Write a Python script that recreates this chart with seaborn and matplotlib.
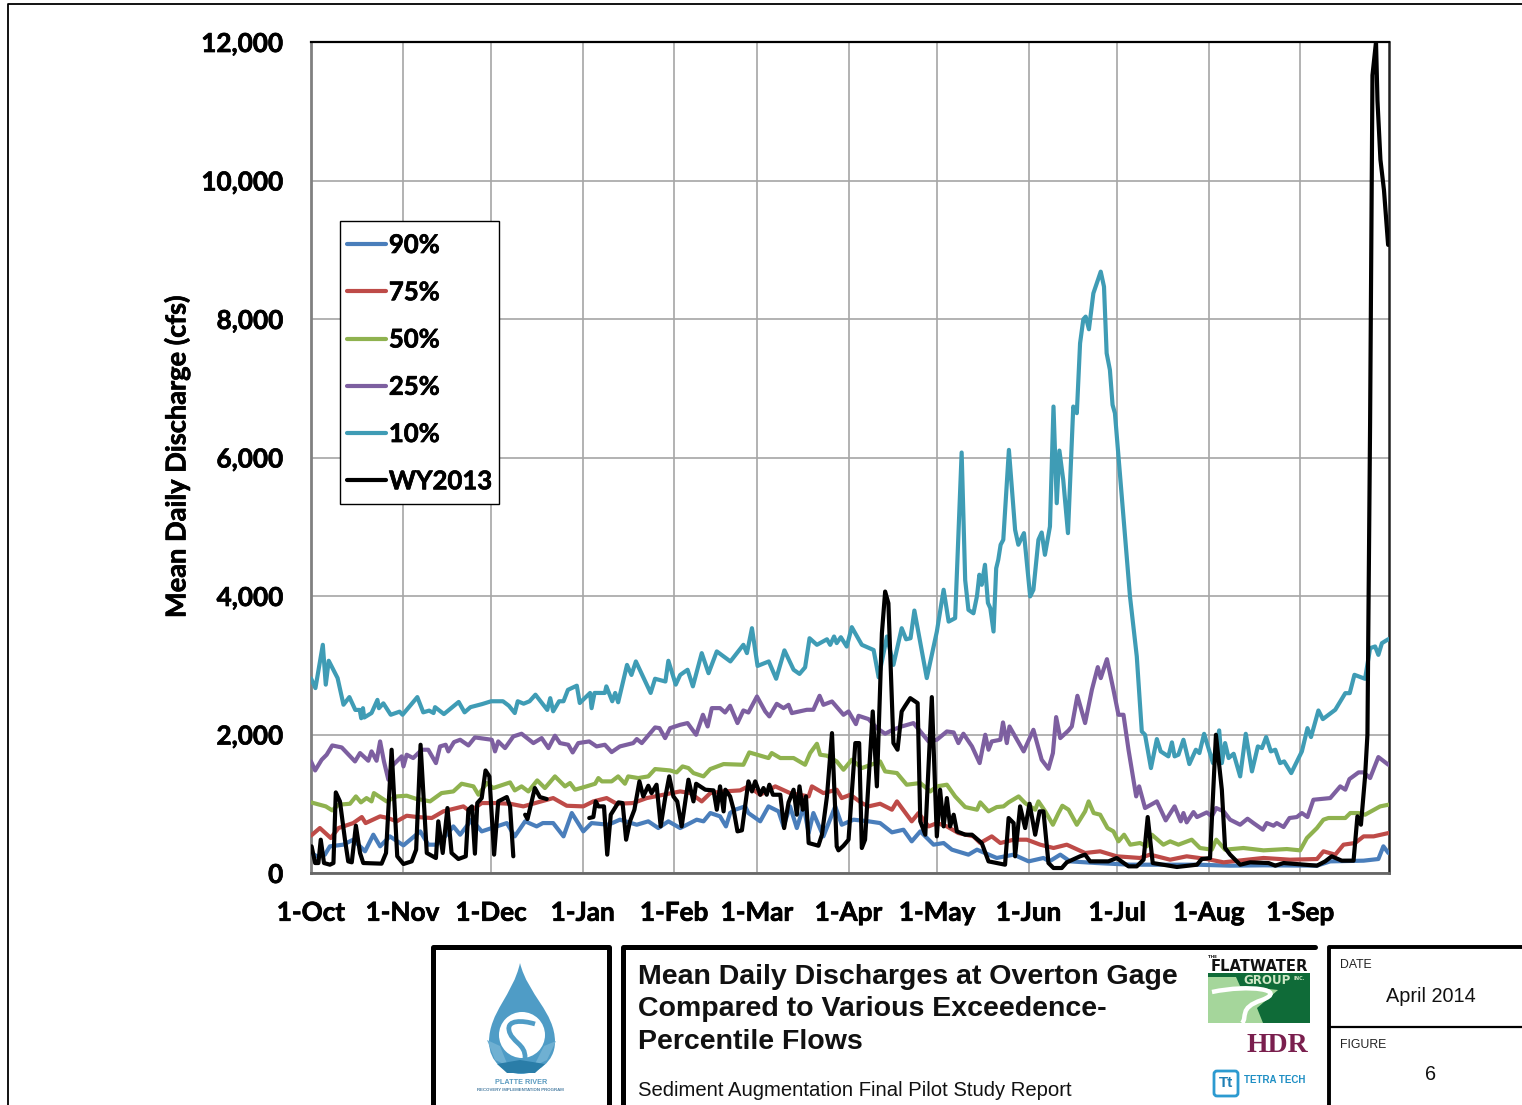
import matplotlib
matplotlib.use('Agg')
import matplotlib.pyplot as plt
import matplotlib.patheffects as pe
from matplotlib.patches import Rectangle, PathPatch, FancyBboxPatch, Circle, Polygon
from matplotlib.path import Path
import seaborn as sns

# day of the water year (0 = 1 Oct) and mean daily discharge in cfs
tick_days = [0, 31, 61, 92, 123, 151, 182, 212, 243, 273, 304, 335]
tick_names = ['1-Oct', '1-Nov', '1-Dec', '1-Jan', '1-Feb', '1-Mar', '1-Apr', '1-May', '1-Jun', '1-Jul', '1-Aug', '1-Sep']
y_ticks = [0, 2000, 4000, 6000, 8000, 10000, 12000]

d90 = [0, 2, 4.7, 6.4, 10.9, 14.3, 18.3, 21.1, 23.4, 26.7, 31.3, 37, 39.7, 42.5, 45.4, 48.2, 50.5, 54.4, 57.8, 62.9, 66.3, 69, 72.5, 76.4, 78.5, 82, 85.5, 88.3, 92.2, 95, 100.7, 104.6, 110.3, 114.2, 117.6, 121, 125, 127.3, 130.6, 132.9, 135.2, 138.5, 140.5, 141.9, 143.6, 147, 148.1, 152.1, 154.9, 158.3, 160, 162.2, 164.5, 166.8, 168.5, 170.1, 173.5, 177.5, 179.7, 183.7, 188.8, 192.7, 196.7, 200.6, 203.4, 206.3, 210.8, 214.2, 217, 222.6, 225.5, 232.2, 237.9, 243, 248, 250, 253.7, 257, 266, 277.4, 288.6, 300, 311.2, 322.5, 340.6, 345.1, 356.4, 361.4, 363.1, 364.8]
q90 = [289, 241, 265, 385, 409, 481, 313, 553, 385, 529, 399, 601, 409, 409, 529, 673, 553, 770, 601, 673, 721, 529, 746, 673, 721, 721, 529, 866, 601, 721, 697, 770, 697, 746, 649, 746, 649, 697, 770, 746, 866, 818, 673, 866, 914, 962, 866, 746, 962, 890, 673, 962, 649, 962, 577, 866, 529, 962, 697, 770, 746, 721, 587, 625, 457, 601, 409, 433, 337, 265, 337, 217, 265, 168, 217, 168, 265, 168, 144, 120, 120, 120, 106, 111, 106, 168, 178, 202, 385, 289]

d75 = [0, 3, 6.7, 9.3, 14.3, 17.2, 18.5, 23.4, 26, 29, 32.4, 36, 40.9, 44.8, 51.6, 53.8, 57.8, 62.3, 67.4, 71.9, 82, 86.6, 92.2, 95.6, 100.1, 103.5, 109, 113.7, 119.3, 125, 128.4, 132.3, 135.2, 139.7, 145.3, 148.1, 152.1, 157.2, 162.2, 168.5, 169.6, 173.5, 178, 179.7, 182.6, 186.5, 188.8, 192.7, 196.7, 198.4, 203.4, 205.7, 209.1, 212, 215.3, 219.2, 224.3, 226.6, 230.5, 233.4, 237.9, 242.4, 246.9, 251.4, 255.9, 262.1, 267.2, 272.8, 280.7, 284.1, 290.9, 296.5, 303.3, 309, 316.9, 322.5, 331.5, 340.6, 342.8, 346.8, 349.6, 353.5, 356.4, 359.8, 364.8]
q75 = [539, 649, 505, 649, 721, 808, 721, 818, 794, 746, 827, 808, 794, 890, 962, 890, 1010, 1010, 1000, 962, 1082, 971, 962, 1034, 1082, 1000, 1010, 1082, 1130, 1178, 1154, 1034, 1154, 1178, 1193, 1251, 1130, 1251, 1154, 1106, 1251, 1154, 1203, 1082, 1130, 1010, 962, 1000, 914, 1034, 746, 866, 673, 721, 673, 577, 529, 433, 529, 433, 481, 481, 409, 361, 409, 289, 313, 241, 217, 265, 192, 241, 202, 154, 192, 217, 192, 202, 313, 265, 409, 433, 529, 529, 577]

d50 = [0, 3, 5, 7.2, 9.3, 13.2, 15.2, 16.9, 18.8, 20.5, 21.3, 25.6, 29, 32.4, 35.8, 37.5, 40.3, 44.2, 48.2, 51, 55, 56.7, 59.5, 61.7, 64, 67.4, 69, 71.3, 73.6, 76.6, 79.2, 82.6, 86, 87.7, 89.4, 93.3, 96.2, 97.3, 98.5, 101.8, 104, 106.3, 107.4, 110.8, 114.2, 116.5, 121.6, 123.8, 125.8, 127.8, 129.5, 132.9, 135.2, 139.7, 146.4, 148.4, 151, 154.9, 156, 158.9, 163.4, 167.3, 169, 171.3, 172.4, 174.7, 178, 180.3, 183.1, 186.5, 192.7, 194.4, 198.4, 201.7, 206.3, 209.7, 211.9, 215.3, 218.1, 221.5, 225.5, 226.6, 229.4, 232.2, 234.5, 236.2, 239.6, 241.8, 245.2, 246.3, 248.6, 251.2, 253.1, 254.4, 256.5, 259.3, 262.1, 263.3, 265, 267.2, 269.7, 271.7, 273.4, 275.3, 277.4, 280.7, 283, 284.7, 288.6, 290.9, 293.7, 298.2, 301, 305, 306.5, 309.5, 315.7, 322.5, 330.4, 334.9, 337.2, 340.6, 342.8, 344.5, 350.2, 351.9, 354.7, 356.9, 362, 364.8]
q50 = [1020, 986, 962, 904, 986, 1000, 1106, 1020, 1082, 1034, 1154, 1034, 1106, 1116, 1068, 1058, 1034, 1154, 1178, 1289, 1251, 1130, 1299, 1227, 1260, 1308, 1193, 1251, 1178, 1337, 1227, 1395, 1251, 1299, 1203, 1251, 1289, 1371, 1323, 1323, 1395, 1289, 1395, 1371, 1395, 1501, 1481, 1453, 1539, 1515, 1443, 1395, 1501, 1573, 1563, 1741, 1708, 1660, 1732, 1660, 1660, 1563, 1732, 1866, 1708, 1694, 1611, 1491, 1635, 1515, 1611, 1467, 1443, 1275, 1299, 1178, 1251, 1275, 1106, 952, 914, 1020, 890, 952, 962, 1020, 1106, 1010, 914, 1034, 890, 697, 866, 971, 914, 697, 890, 1034, 866, 842, 649, 601, 457, 553, 409, 433, 385, 553, 409, 457, 409, 481, 361, 337, 481, 337, 361, 327, 346, 327, 505, 649, 770, 794, 794, 866, 866, 842, 962, 986]

d25 = [0, 1.4, 3.6, 5.3, 7.2, 10.4, 14.9, 16.6, 19.4, 20.5, 22.2, 23.4, 24.7, 26.2, 27.3, 30.7, 31.3, 32.4, 34.6, 37.5, 39.7, 42.3, 43.7, 45.6, 46.5, 48.4, 50.5, 53.3, 55.5, 61.2, 62.3, 63.4, 65.7, 68.5, 71.3, 75.3, 78.1, 80.4, 82.6, 84.3, 87.1, 88.6, 90.5, 94.2, 96.7, 99.5, 101.8, 104.6, 109.1, 110.3, 112, 116.5, 118, 119.9, 121.6, 125, 127.5, 130.4, 132.7, 134.3, 135.7, 138.5, 140.2, 141.9, 144.4, 146.4, 148.1, 151, 153.8, 155.2, 157.7, 160, 161.7, 162.8, 167.9, 170.1, 172.2, 173.5, 176.4, 180.3, 182, 184.5, 185.4, 188.8, 191.6, 194.4, 197, 200, 204, 209.1, 211.9, 215.3, 217.6, 219.2, 220.9, 223.8, 226.4, 228.3, 229.4, 230.5, 233.4, 234.3, 235.6, 236.5, 241.3, 244.6, 247.4, 249.7, 251.2, 252.3, 253.7, 256.5, 257.6, 259.5, 262.1, 264.4, 266.4, 267.4, 269.5, 271.7, 273.4, 275.1, 276.8, 279.4, 280.4, 282.4, 286.4, 289.4, 292.4, 294.5, 295.4, 296.5, 298.8, 300, 303.3, 305, 306.5, 309, 311.2, 314.6, 317.1, 319.1, 322.3, 323.6, 325.9, 327, 329.3, 331.3, 333.8, 335.5, 337.4, 339.4, 345.1, 348.5, 350.2, 351.6, 354.7, 356.4, 358.6, 361.4, 364.8]
q25 = [1611, 1481, 1635, 1708, 1842, 1813, 1611, 1732, 1621, 1756, 1621, 1900, 1611, 1347, 1539, 1684, 1539, 1708, 1660, 1780, 1780, 1587, 1828, 1852, 1756, 1890, 1924, 1842, 1958, 1924, 1756, 1900, 1804, 1972, 2011, 1876, 1948, 1804, 1982, 1876, 1852, 1741, 1876, 1900, 1828, 1852, 1746, 1828, 1876, 1934, 1876, 2102, 2092, 1948, 2092, 2140, 2165, 1996, 2285, 2116, 2381, 2381, 2318, 2415, 2165, 2347, 2318, 2549, 2333, 2261, 2443, 2381, 2429, 2309, 2357, 2357, 2559, 2429, 2477, 2285, 2333, 2150, 2270, 2222, 2092, 2011, 2068, 2116, 2165, 1900, 1924, 2044, 2030, 1876, 2011, 1828, 1587, 1996, 1780, 1900, 1924, 2174, 1876, 2116, 1756, 2068, 1635, 1505, 1732, 2251, 1948, 2059, 2116, 2559, 2165, 2646, 2973, 2814, 3088, 2646, 2285, 2285, 1780, 1106, 1251, 938, 1034, 760, 962, 746, 866, 731, 880, 808, 875, 818, 938, 890, 770, 697, 784, 721, 625, 721, 683, 721, 664, 794, 808, 866, 808, 1058, 1082, 1251, 1203, 1356, 1453, 1453, 1371, 1674, 1563]

d10 = [0, 1.5, 4, 5, 6, 9, 11, 13, 15, 16.5, 17, 17.6, 18, 20.5, 22.5, 23, 24.5, 27, 30, 31, 36, 38, 40, 41.5, 42, 45, 50, 52, 54, 58, 61, 65, 67, 69, 70, 72, 74, 76, 80, 81, 82, 84, 85.5, 87, 90, 91, 94.5, 95, 96, 99.5, 100, 102, 103, 104, 107, 108.5, 110, 115, 116.5, 120, 121, 123.5, 125, 127.5, 129.3, 132.3, 134.6, 137.4, 142, 146.4, 147.6, 149.3, 151.2, 155, 157.5, 160.3, 163.4, 165.4, 167.3, 168.8, 171.3, 174.7, 175.8, 177.1, 178, 179.4, 181.4, 183.1, 186.5, 190.5, 192.2, 195, 197.2, 200, 201.5, 203, 204.3, 208.5, 211.9, 214.2, 215.9, 218.1, 220.3, 221.5, 222.6, 224.3, 225.5, 226.3, 227.1, 228.2, 229.2, 230, 231.1, 232, 232.7, 233.5, 234.4, 236.3, 238.4, 239.5, 241.4, 243.5, 244.6, 246.3, 247.4, 248.5, 250.2, 251.4, 252.5, 253.4, 254.7, 256.3, 258.1, 259.3, 260.4, 261.5, 262.3, 263.4, 264.9, 267.4, 268.5, 269.4, 270.5, 271.4, 272.2, 273.4, 277.3, 279.6, 281.3, 282.4, 284.4, 286.4, 287.7, 290.3, 291.5, 292.4, 293.7, 295.4, 297.4, 299.6, 300.8, 302.4, 305.4, 307.5, 308.4, 309.5, 310.7, 312.4, 314.6, 316.5, 318.6, 320.6, 322, 323.4, 325, 326.5, 328.1, 329.5, 331.9, 335.5, 337.4, 338.6, 341.1, 342.6, 346.8, 350.2, 351.7, 353.3, 356.9, 358.6, 360.3, 361.4, 362.6, 364.8]
q10 = [2810, 2670, 3295, 2720, 3065, 2815, 2430, 2540, 2355, 2355, 2235, 2380, 2245, 2310, 2500, 2380, 2450, 2285, 2330, 2285, 2540, 2320, 2345, 2310, 2395, 2295, 2470, 2320, 2395, 2440, 2480, 2480, 2415, 2310, 2480, 2445, 2480, 2575, 2355, 2525, 2335, 2480, 2480, 2645, 2705, 2455, 2600, 2380, 2600, 2600, 2695, 2480, 2600, 2465, 3005, 2860, 3055, 2600, 2805, 2765, 3065, 2720, 2860, 2935, 2695, 3175, 2885, 3200, 3055, 3295, 3175, 3535, 2990, 3055, 2805, 3215, 2935, 2875, 2970, 3390, 3295, 3375, 3295, 3415, 3320, 3405, 3270, 3550, 3295, 3220, 2825, 3415, 3005, 3535, 3375, 3390, 3790, 2815, 3485, 4090, 3630, 3680, 6072, 4230, 3800, 3750, 4000, 4307, 4162, 4451, 3900, 3825, 3487, 4400, 4523, 4740, 4812, 6110, 4956, 4740, 4908, 3994, 4090, 4812, 4917, 4595, 5004, 6736, 5340, 6100, 5677, 4908, 6736, 6640, 7650, 7996, 8034, 7852, 8371, 8684, 8467, 7505, 7265, 6760, 6640, 6014, 3994, 3127, 2044, 1996, 1515, 1934, 1756, 1684, 1886, 1684, 1708, 1924, 1573, 1780, 1732, 2010, 1587, 2059, 1587, 1876, 1660, 1722, 1395, 2010, 1467, 1828, 1804, 1963, 1756, 1780, 1587, 1611, 1443, 1756, 2092, 1963, 2347, 2222, 2357, 2597, 2597, 2862, 2804, 3247, 3271, 3150, 3319, 3377]

# WY2013 has two stretches without record, so it comes in three pieces
wy_d1 = [0.2, 1.4, 2.5, 3.3, 4.4, 6.4, 7.6, 8.4, 9.8, 11.5, 12.6, 13.8, 15.2, 16.6, 17.7, 23.9, 25.4, 27.3, 29.2, 31.3, 34.1, 35.6, 37.1, 39.2, 42.3, 43.1, 44.6, 46.2, 47.6, 49.9, 52.4, 53.3, 54.5, 55.5, 56.3, 57.8, 59.1, 60.4, 62, 63.4, 66.3, 67.4, 68.5]
wy_q1 = [385, 144, 144, 481, 144, 120, 144, 1164, 1034, 481, 168, 154, 683, 289, 144, 135, 289, 1780, 241, 130, 168, 337, 1852, 289, 216, 746, 289, 938, 289, 202, 241, 914, 962, 279, 1010, 1082, 1481, 1395, 265, 1034, 1097, 962, 241]
wy_d2 = [72.5, 73.3, 75.8, 77.5, 79.8]
wy_q2 = [842, 779, 1227, 1097, 1068]
wy_d3 = [94.2, 95.6, 96.4, 97.3, 99.2, 100.3, 101.5, 104.1, 105.5, 106.7, 108, 109.5, 111.2, 112.5, 114.2, 115.3, 117, 118.4, 119.9, 121.3, 122.7, 124, 125.5, 127.8, 129.5, 130.4, 133.5, 136.3, 137.4, 138.5, 139.7, 140.3, 141.9, 143.1, 144.4, 145.9, 148.1, 149.3, 150.4, 152.1, 153.2, 154.3, 155.2, 156.4, 158.9, 160.2, 161.7, 163.4, 164.5, 165.4, 166.5, 167.6, 168.5, 171.8, 173, 174.7, 176.4, 178, 178.6, 180.3, 182, 184.3, 185.6, 186.5, 187.6, 190.2, 191.6, 193.3, 194.4, 195.5, 197.2, 198.6, 200, 201.2, 202.9, 205.4, 206.3, 208, 210.2, 211.9, 213, 214.2, 215.3, 216.4, 217.6, 218.7, 221.5, 223.8, 227.1, 229.4, 235, 236.2, 237.9, 238.4, 240.1, 241.8, 243.3, 245.2, 246.7, 248, 249.7, 251.4, 254.2, 255.9, 260.4, 262.1, 263.8, 270, 272.8, 276.8, 279.6, 281.9, 283.3, 285, 293.2, 300, 301.6, 304.4, 306.4, 308.4, 309.5, 311.2, 314.6, 318, 324.2, 326.5, 329.3, 340.6, 343.4, 345.6, 349, 353, 354.3, 355.5, 356.9, 357.7, 358.6, 359.4, 360.6, 361.1, 362.1, 363.3, 364.7]
wy_q3 = [794, 808, 1034, 962, 962, 265, 842, 1020, 1010, 481, 746, 914, 1323, 1106, 1260, 1154, 1275, 673, 1082, 1395, 1106, 1034, 673, 1347, 1034, 1289, 1203, 1193, 914, 1251, 890, 1203, 1106, 914, 601, 616, 1323, 1178, 1323, 1130, 1227, 1130, 1275, 1130, 1130, 649, 1020, 1203, 842, 1251, 914, 1106, 433, 394, 553, 1106, 2020, 385, 327, 394, 481, 1876, 1876, 361, 481, 2333, 1251, 3463, 4064, 3896, 1876, 1780, 2333, 2415, 2525, 2453, 746, 553, 2540, 529, 1203, 673, 1082, 673, 842, 601, 553, 553, 433, 168, 120, 794, 721, 241, 962, 649, 1000, 553, 890, 890, 144, 72, 72, 154, 241, 265, 168, 168, 216, 96, 96, 192, 808, 144, 87, 120, 202, 216, 1996, 1203, 361, 265, 120, 154, 144, 106, 144, 106, 168, 241, 178, 178, 818, 697, 1395, 2000, 6500, 11520, 12000, 11150, 10300, 9860, 9070]

sns.set_theme(style='white')
plt.rcParams['font.family'] = ['Lato', 'DejaVu Sans']

fig = plt.figure(figsize=(15.22, 11.05), dpi=100)
heavy = [pe.withStroke(linewidth=0.5, foreground='black')]

# sheet frame and title block, laid out in pixels
sheet = fig.add_axes([0, 0, 1, 1])
sheet.set_xlim(0, 1522)
sheet.set_ylim(1105, 0)
sheet.axis('off')
sheet.plot([8, 8, 1522], [1105, 4, 4], color='black', lw=1.3)
sheet.plot([433, 433, 609, 609], [1105, 947, 947, 1105], color='black', lw=3.6)
sheet.plot([623, 623, 1315], [1105, 947, 947], color='black', lw=3.6)
sheet.plot([1329, 1329, 1522], [1105, 947, 947], color='black', lw=2.8)
sheet.plot([1329, 1522], [1027, 1027], color='black', lw=1.6)

# Platte River logo
drop = Path([(520, 963), (513, 995), (489, 1012), (489, 1042), (489, 1062), (505, 1074), (521, 1074),
             (537, 1074), (555, 1062), (555, 1042), (555, 1012), (528, 995), (520, 963)],
            [Path.MOVETO] + [Path.CURVE4] * 12)
sheet.add_patch(PathPatch(drop, fc='#4f9cc6', ec='none'))
sheet.add_patch(Polygon([(487, 1040), (500, 1046), (508, 1066), (495, 1060)], fc='#6fb0d2', ec='none'))
sheet.add_patch(Polygon([(556, 1041), (544, 1046), (534, 1066), (547, 1060)], fc='#6fb0d2', ec='none'))
sheet.add_patch(Circle((522, 1035), 23, fc='white', ec='none'))
swan = Path([(535, 1024), (522, 1020), (507, 1020), (509, 1030), (511, 1042), (526, 1044), (525, 1058)],
            [Path.MOVETO] + [Path.CURVE4] * 6)
sheet.add_patch(PathPatch(swan, fc='none', ec='#4f9cc6', lw=3.4))
sheet.add_patch(Polygon([(497, 1064), (520, 1060), (545, 1064), (535, 1073), (507, 1073)], fc='#2a7da8', ec='none'))
sheet.text(521, 1083, 'PLATTE RIVER', ha='center', va='center', fontsize=5.2, fontweight='bold', color='#5b9bc0', family='Liberation Sans')
sheet.text(520, 1090, 'RECOVERY IMPLEMENTATION PROGRAM', ha='center', va='center', fontsize=3.2, fontweight='bold', color='#4c7fa3', family='Liberation Sans')

# Flatwater, HDR and Tetra Tech logos
sheet.add_patch(Rectangle((1208, 973), 102, 50, fc='#0f6b38', ec='none'))
sheet.add_patch(Polygon([(1208, 977), (1236, 977), (1240, 986), (1278, 990), (1257, 1008), (1263, 1023), (1208, 1023)], fc='#a5d69b', ec='none'))
river = Path([(1212, 992), (1250, 984), (1288, 990), (1262, 1000), (1238, 1008), (1248, 1017), (1242, 1023)],
             [Path.MOVETO] + [Path.CURVE4] * 6)
sheet.add_patch(PathPatch(river, fc='none', ec='white', lw=3.2))
sheet.text(1259, 966.5, 'FLATWATER', ha='center', va='center', fontsize=10.6, fontweight='bold', color='#111111', family='DejaVu Sans')
sheet.text(1213, 957, 'THE', ha='center', va='center', fontsize=3, fontweight='bold', color='#111111', family='DejaVu Sans')
sheet.text(1267, 980, 'GROUP', ha='center', va='center', fontsize=8.6, fontweight='bold', color='#cfe8c6', family='DejaVu Sans')
sheet.text(1299, 978, 'INC.', ha='center', va='center', fontsize=3.5, fontweight='bold', color='#cfe8c6', family='DejaVu Sans')
sheet.text(1277, 1046, 'HDR', ha='center', va='center', fontsize=20, fontweight='bold', color='#7a1f4e', family='Liberation Serif')
sheet.add_patch(FancyBboxPatch((1214, 1071), 24, 25, boxstyle='round,pad=0,rounding_size=3', fc='white', ec='#2c9ad0', lw=2))
sheet.text(1226, 1083, 'Tt', ha='center', va='center', fontsize=11, fontweight='bold', color='#1f7fb5', family='Liberation Sans')
sheet.text(1275, 1080, 'TETRA TECH', ha='center', va='center', fontsize=7, fontweight='bold', color='#1f8fc4', family='Liberation Sans')

title_lines = ['Mean Daily Discharges at Overton Gage', 'Compared to Various Exceedence-', 'Percentile Flows']
for line, y in zip(title_lines, [977, 1009, 1042]):
    sheet.text(638, y, line, ha='left', va='center', fontsize=20.5, fontweight='bold', color='#111111', family='Liberation Sans')
sheet.text(638, 1091, 'Sediment Augmentation Final Pilot Study Report', ha='left', va='center', fontsize=14.55, color='#111111', family='Liberation Sans')
sheet.text(1340, 965, 'DATE', ha='left', va='center', fontsize=8.8, color='#222222', family='Liberation Sans')
sheet.text(1431, 997, 'April 2014', ha='center', va='center', fontsize=14.3, color='#111111', family='Liberation Sans')
sheet.text(1340, 1045, 'FIGURE', ha='left', va='center', fontsize=8.8, color='#222222', family='Liberation Sans')
sheet.text(1431, 1074, '6', ha='center', va='center', fontsize=14.3, color='#111111', family='Liberation Sans')

ax = fig.add_axes([311 / 1522, 1 - 873 / 1105, 1078 / 1522, 831 / 1105])
lw = 3.0
sns.lineplot(x=d90, y=q90, color='#4a7ebb', lw=lw, label='90%', ax=ax, estimator=None, zorder=3)
sns.lineplot(x=d75, y=q75, color='#be4b48', lw=lw, label='75%', ax=ax, estimator=None, zorder=3)
sns.lineplot(x=d50, y=q50, color='#8fb24f', lw=lw, label='50%', ax=ax, estimator=None, zorder=3)
sns.lineplot(x=d25, y=q25, color='#7d5fa0', lw=lw, label='25%', ax=ax, estimator=None, zorder=3)
sns.lineplot(x=d10, y=q10, color='#3f9cb5', lw=lw, label='10%', ax=ax, estimator=None, zorder=3)
sns.lineplot(x=wy_d1, y=wy_q1, color='black', lw=lw, label='WY2013', ax=ax, estimator=None, zorder=4)
sns.lineplot(x=wy_d2, y=wy_q2, color='black', lw=lw, ax=ax, estimator=None, zorder=4, legend=False)
sns.lineplot(x=wy_d3, y=wy_q3, color='black', lw=lw, ax=ax, estimator=None, zorder=4, legend=False)

ax.set_xlim(0, 365)
ax.set_ylim(0, 12000)
ax.set_xticks(tick_days)
ax.set_xticklabels(tick_names)
ax.set_yticks(y_ticks)
ax.set_yticklabels([f'{v:,}' for v in y_ticks], va='center_baseline')
ax.grid(True, color='#a6a6a6', lw=1.2)
ax.set_axisbelow(True)
ax.tick_params(axis='both', length=0, labelsize=18.8, labelcolor='black')
ax.tick_params(axis='x', pad=20)
ax.tick_params(axis='y', pad=20)
for t in ax.get_xticklabels() + ax.get_yticklabels():
    t.set_fontweight('bold')
    t.set_path_effects(heavy)
ax.set_ylabel('')
fig.text(177 / 1522, 1 - 457 / 1105, 'Mean Daily Discharge (cfs)', rotation=90, ha='center', va='center', fontsize=19.6,
         fontweight='bold', color='black', path_effects=heavy)
for side, col, w in [('top', 'black', 1.6), ('right', '#222222', 1.8), ('left', '#808080', 2.0), ('bottom', '#666666', 2.0)]:
    ax.spines[side].set_visible(True)
    ax.spines[side].set_color(col)
    ax.spines[side].set_linewidth(w)

# legend box is a fixed size in the sheet, the legend itself sits on top of it
ax.add_patch(Rectangle((340 / 1522, 1 - 504 / 1105), 159 / 1522, 283 / 1105, transform=fig.transFigure,
                       fc='white', ec='black', lw=1.0, zorder=5, clip_on=False))
leg = ax.legend(loc='upper left', bbox_to_anchor=(347 / 1522, 1 - 233 / 1105), bbox_transform=fig.transFigure,
                frameon=False, fontsize=18.5, handlelength=1.52, handletextpad=0.11, labelspacing=0.905,
                borderpad=0, borderaxespad=0)
leg.set_zorder(6)
for t in leg.get_texts():
    t.set_fontweight('bold')
    t.set_color('black')
    t.set_path_effects(heavy)

fig.savefig('out.png', dpi=100)
